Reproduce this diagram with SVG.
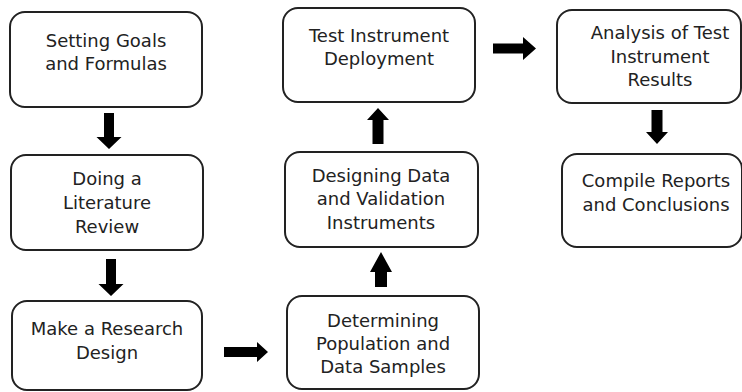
<svg xmlns="http://www.w3.org/2000/svg" width="742" height="392" viewBox="0 0 742 392">
<style>
.box{fill:#fff;stroke:#222;stroke-width:2}
.t{font-family:"DejaVu Sans","Verdana",sans-serif;font-size:18px;fill:#222;text-anchor:middle}
.ar{fill:#000}
</style>
<rect width="742" height="392" fill="#fff"/>
<g id="n1"><rect class="box" x="10" y="12" width="192" height="95" rx="15"/>
<text class="t" x="106" y="47">Setting Goals</text><text class="t" x="106" y="70">and Formulas</text></g>
<g id="n2"><rect class="box" x="11" y="155" width="192" height="95" rx="15"/>
<text class="t" x="107" y="185">Doing a</text><text class="t" x="107" y="209">Literature</text><text class="t" x="107" y="233">Review</text></g>
<g id="n3"><rect class="box" x="12" y="301" width="190" height="89" rx="15"/>
<text class="t" x="107" y="335">Make a Research</text><text class="t" x="107" y="359">Design</text></g>
<g id="n4"><rect class="box" x="287" y="296" width="192" height="93" rx="15"/>
<text class="t" x="383" y="327">Determining</text><text class="t" x="383" y="350">Population and</text><text class="t" x="383" y="373">Data Samples</text></g>
<g id="n5"><rect class="box" x="285" y="152" width="193" height="95" rx="15"/>
<text class="t" x="381" y="182">Designing Data</text><text class="t" x="381" y="205">and Validation</text><text class="t" x="381" y="229">Instruments</text></g>
<g id="n6"><rect class="box" x="283" y="8" width="192" height="94" rx="15"/>
<text class="t" x="379" y="42">Test Instrument</text><text class="t" x="379" y="65">Deployment</text></g>
<g id="n7"><rect class="box" x="557" y="10" width="184" height="93" rx="15"/>
<text class="t" x="660" y="39">Analysis of Test</text><text class="t" x="660" y="63">Instrument</text><text class="t" x="660" y="86">Results</text></g>
<g id="n8"><rect class="box" x="562" y="154" width="180" height="93" rx="15"/>
<text class="t" x="656" y="187">Compile Reports</text><text class="t" x="656" y="211">and Conclusions</text></g>
<g id="connectors">
<polygon class="ar" points="104,113 114,113 114,137 121.5,137 109,149 96.5,137 104,137"/>
<polygon class="ar" points="106,259 116,259 116,284 123.5,284 111,296 98.5,284 106,284"/>
<polygon class="ar" points="224,347 257,347 257,342 268,352 257,362 257,357 224,357"/>
<polygon class="ar" points="375,287 387,287 387,272 392,272 381,252 370,272 375,272"/>
<polygon class="ar" points="372.5,144 383.5,144 383.5,120 389,120 378,108 367,120 372.5,120"/>
<polygon class="ar" points="493,43.5 523,43.5 523,37 536,48.5 523,60 523,53.5 493,53.5"/>
<polygon class="ar" points="651.5,110 662.5,110 662.5,132 668,132 657,144 646,132 651.5,132"/>
</g>
</svg>
